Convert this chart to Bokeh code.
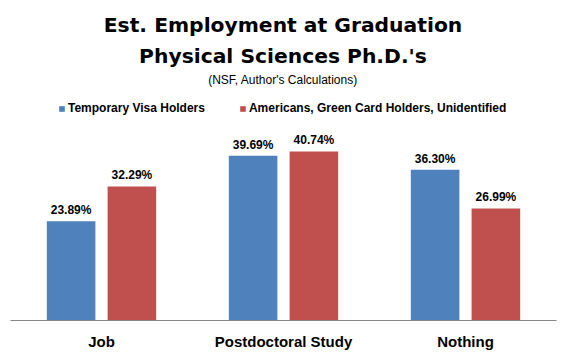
from bokeh.plotting import figure
from bokeh.models import ColumnDataSource, FactorRange, Range1d, Label, Legend, LegendItem
from bokeh.core.properties import value
from bokeh.transform import dodge
from bokeh.embed import file_html
from bokeh.resources import INLINE

categories = ["Job", "Postdoctoral Study", "Nothing"]
visa_holders = [23.89, 39.69, 36.30]
americans = [32.29, 40.74, 26.99]
series_names = ["Temporary Visa Holders", "Americans, Green Card Holders, Unidentified"]
title_line1 = "Est. Employment at Graduation"
title_line2 = "Physical Sciences Ph.D.'s"
subtitle = "(NSF, Author's Calculations)"

BLUE = "#4F81BD"
RED = "#C0504D"

source = ColumnDataSource(data=dict(
    cat=categories,
    visa=visa_holders,
    amer=americans,
    visa_lbl=["%.2f%%" % v for v in visa_holders],
    amer_lbl=["%.2f%%" % v for v in americans],
))

p = figure(
    width=568, height=356,
    x_range=FactorRange(factors=categories),
    y_range=Range1d(0, 320 / 4.15),
    output_backend="svg", toolbar_location=None,
    y_axis_location=None,
    min_border_left=10, min_border_right=12,
    min_border_top=0, min_border_bottom=36,
)
p.outline_line_color = None
p.border_fill_color = "white"
p.background_fill_color = "white"
p.xgrid.visible = False
p.ygrid.visible = False

off = 0.167
bw = 0.267
r1 = p.vbar(x=dodge("cat", -off, range=p.x_range), top="visa", width=bw, source=source,
            fill_color=BLUE, line_color=None)
r2 = p.vbar(x=dodge("cat", off, range=p.x_range), top="amer", width=bw, source=source,
            fill_color=RED, line_color=None)

for xo, col, lbl in [(-off, "visa", "visa_lbl"), (off, "amer", "amer_lbl")]:
    p.text(x=dodge("cat", xo, range=p.x_range), y=col, text=lbl, source=source,
           text_align="center", text_baseline="alphabetic", y_offset=-11,
           text_font=value("Liberation Sans"), text_font_size="12px",
           text_font_style="bold", text_color="black")

ax = p.xaxis[0]
ax.axis_line_color = "#868686"
ax.axis_line_width = 1
ax.major_tick_line_color = None
ax.minor_tick_line_color = None
ax.major_tick_out = 0
ax.major_tick_in = 0
ax.major_label_standoff = 12
ax.major_label_text_font = "Liberation Sans"
ax.major_label_text_font_style = "bold"
ax.major_label_text_font_size = "15px"
ax.major_label_text_color = "black"

for txt, y, size, style, font in [
    (title_line1, 296, "20.3px", "bold", "DejaVu Sans"),
    (title_line2, 265, "20.3px", "bold", "DejaVu Sans"),
    (subtitle, 241, "12px", "normal", "Liberation Sans"),
]:
    p.add_layout(Label(x=272.5, y=y, x_units="screen", y_units="screen", text=txt,
                       text_align="center", text_baseline="alphabetic",
                       text_font=font, text_font_size=size, text_font_style=style,
                       text_color="black"))

legend = Legend(
    items=[LegendItem(label=series_names[0], renderers=[r1]),
           LegendItem(label=series_names[1], renderers=[r2])],
    orientation="horizontal", location=(48, 205),
    glyph_width=7, glyph_height=7, label_standoff=3, spacing=34,
    padding=0, margin=0, border_line_color=None, background_fill_alpha=0,
    label_text_font="Liberation Sans", label_text_font_style="bold",
    label_text_font_size="12px", label_height=12, label_text_color="black",
)
p.add_layout(legend)

open("out.html", "w").write(file_html(p, INLINE))
